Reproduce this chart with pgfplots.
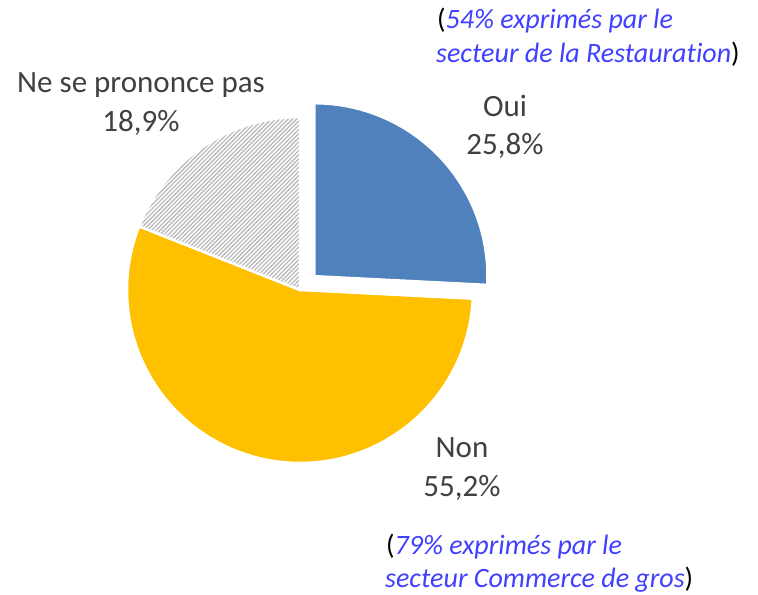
\documentclass[border=0pt]{standalone}
\usepackage{pgfplots}
\pgfplotsset{compat=1.18}
\usepackage{fontspec}
\setmainfont{Carlito}[Ligatures=NoCommon]
\definecolor{ouiblue}{RGB}{79,129,189}
\definecolor{nonyellow}{RGB}{255,192,0}
\definecolor{lbl}{RGB}{64,64,64}
\definecolor{annblue}{RGB}{64,64,255}
\definecolor{hatch}{RGB}{188,188,188}
% pie values (percent)
\def\vOui{25.8}
\def\vNon{55.2}
\def\vNsp{18.9}
\begin{document}
\begin{tikzpicture}
\pgfmathsetmacro{\aOuiEnd}{90-3.6*\vOui}
\pgfmathsetmacro{\aNonEnd}{\aOuiEnd-3.6*\vNon}
\pgfmathsetmacro{\aOuiMid}{90-1.8*\vOui}
\begin{axis}[
  name=pie,
  x=1bp, y=1bp,
  xmin=0, xmax=758, ymin=0, ymax=595,
  hide axis, clip=false,
  scale only axis,
]
% Non
\fill[nonyellow, draw=white, line width=2.5bp]
  (axis cs:300,305) -- ++(\aOuiEnd:173bp)
  arc[start angle=\aOuiEnd, end angle=\aNonEnd, radius=173bp] -- cycle;
% Ne se prononce pas (hatched)
\begin{scope}
\clip (axis cs:300,305) -- ++(\aNonEnd:173bp)
  arc[start angle=\aNonEnd, end angle=-270, radius=173bp] -- cycle;
\pgfplotsinvokeforeach{-360,-355.8,...,5}{
  \draw[hatch, line width=1.3bp] (axis cs:{#1+100},100) -- (axis cs:{#1+520},520);
}
\end{scope}
\draw[white, line width=2.5bp]
  (axis cs:300,305) -- ++(\aNonEnd:173bp)
  arc[start angle=\aNonEnd, end angle=-270, radius=173bp] -- cycle;
% Oui (exploded)
\fill[ouiblue, draw=white, line width=2.5bp, shift={(\aOuiMid:20bp)}]
  (axis cs:300,305) -- ++(90:173bp)
  arc[start angle=90, end angle=\aOuiEnd, radius=173bp] -- cycle;
% labels
\begin{scope}[every node/.style={anchor=base, text=lbl, font=\fontsize{31bp}{38bp}\selectfont, inner sep=0pt}]
\node at (axis cs:505,478) {Oui};
\node at (axis cs:505,440) {25,8\%};
\node at (axis cs:462,137) {Non};
\node at (axis cs:462,98) {55,2\%};
\node at (axis cs:141,502) {Ne se prononce pas};
\node at (axis cs:141,463) {18,9\%};
\end{scope}
\begin{scope}[every node/.style={anchor=base west, font=\fontsize{28bp}{34bp}\selectfont, inner sep=0pt}]
\node at (axis cs:437,566) {(\textcolor{annblue}{\itshape 54\% exprimés par le}};
\node at (axis cs:436,532) {\textcolor{annblue}{\itshape secteur de la Restauration})};
\node at (axis cs:386,40) {(\textcolor{annblue}{\itshape 79\% exprimés par le}};
\node at (axis cs:385,7) {\textcolor{annblue}{\itshape secteur Commerce de gros})};
\end{scope}
\end{axis}
\pgfresetboundingbox
\path (pie.south west) rectangle (pie.north east);
\end{tikzpicture}
\end{document}
